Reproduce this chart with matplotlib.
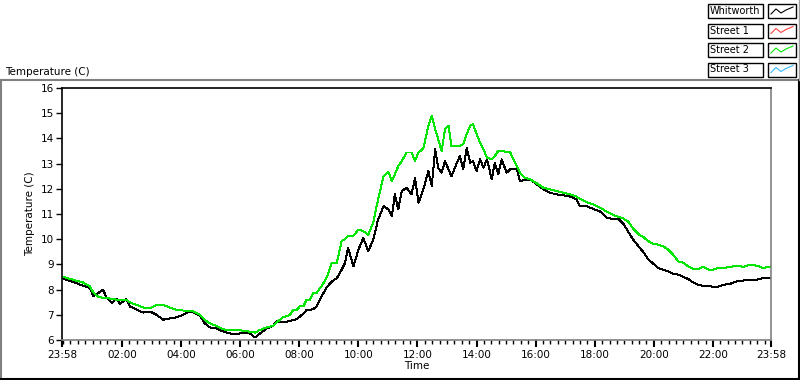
import matplotlib
matplotlib.use("Agg")
import matplotlib.pyplot as plt
from matplotlib.lines import Line2D
from matplotlib.patches import Rectangle

# minutes after 23:58 (start of the day window)
minutes = [0, 3, 23, 43, 57, 64, 74, 83, 91, 101, 111, 118, 130, 138, 152, 165, 179, 192,
           206, 219, 233, 246, 257, 267, 280, 290, 300, 314, 328, 341, 355, 368, 382, 392,
           402, 416, 429, 436, 449, 463, 470, 477, 483, 490, 497, 504, 510, 517, 524, 527,
           538, 548, 558, 568, 575, 581, 592, 602, 612, 622, 632, 642, 653, 663, 670, 676,
           683, 690, 700, 710, 717, 724, 734, 744, 751, 758, 764, 771, 778, 785, 791, 798,
           808, 815, 822, 829, 835, 842, 849, 856, 863, 873, 879, 886, 893, 903, 910, 917,
           924, 930, 940, 951, 964, 978, 991, 1005, 1018, 1032, 1045, 1052, 1066, 1079, 1093,
           1106, 1120, 1130, 1140, 1150, 1160, 1171, 1181, 1191, 1201, 1211, 1221, 1231, 1241,
           1252, 1262, 1272, 1282, 1292, 1302, 1313, 1323, 1333, 1343, 1357, 1370, 1384, 1397,
           1411, 1424, 1440]

whitworth = [8.5, 8.43, 8.3, 8.15, 8.06, 7.73, 7.87, 8.0, 7.67, 7.47, 7.63, 7.43, 7.63, 7.33,
             7.2, 7.09, 7.13, 7.0, 6.8, 6.86, 6.9, 7.0, 7.13, 7.09, 6.96, 6.66, 6.5, 6.46, 6.33,
             6.26, 6.24, 6.29, 6.26, 6.1, 6.26, 6.46, 6.56, 6.75, 6.7, 6.75, 6.8, 6.82, 6.93,
             7.04, 7.2, 7.2, 7.22, 7.33, 7.6, 7.73, 8.1, 8.32, 8.45, 8.79, 9.06, 9.65, 8.92,
             9.59, 10.05, 9.52, 9.98, 10.78, 11.31, 11.18, 10.91, 11.78, 11.18, 11.91, 12.04,
             11.78, 12.44, 11.44, 11.98, 12.7, 12.11, 13.57, 12.84, 12.64, 13.1, 12.77, 12.5,
             12.84, 13.3, 12.77, 13.63, 13.04, 13.1, 12.7, 13.17, 12.84, 13.17, 12.37, 13.04,
             12.57, 13.17, 12.64, 12.77, 12.77, 12.77, 12.31, 12.35, 12.37, 12.18, 11.98, 11.84,
             11.78, 11.74, 11.69, 11.58, 11.31, 11.31, 11.2, 11.1, 10.85, 10.8, 10.8, 10.62,
             10.3, 9.98, 9.72, 9.48, 9.19, 9.03, 8.86, 8.79, 8.72, 8.63, 8.59, 8.5, 8.42, 8.28,
             8.19, 8.15, 8.15, 8.1, 8.12, 8.19, 8.23, 8.32, 8.36, 8.39, 8.39, 8.46, 8.48]

street2 = [8.5, 8.5, 8.39, 8.28, 8.12, 7.87, 7.71, 7.67, 7.67, 7.63, 7.6, 7.6, 7.6, 7.49, 7.39,
           7.29, 7.26, 7.39, 7.39, 7.29, 7.2, 7.17, 7.17, 7.13, 7.0, 6.8, 6.66, 6.56, 6.42, 6.4,
           6.4, 6.37, 6.33, 6.29, 6.4, 6.5, 6.56, 6.7, 6.9, 7.0, 7.2, 7.2, 7.33, 7.33, 7.6, 7.6,
           7.88, 7.86, 8.06, 8.12, 8.5, 9.06, 9.06, 9.92, 10.0, 10.14, 10.14, 10.38, 10.32,
           10.18, 10.65, 11.58, 12.5, 12.67, 12.31, 12.57, 12.9, 13.1, 13.44, 13.44, 13.1,
           13.44, 13.6, 14.5, 14.9, 14.37, 13.97, 13.5, 14.37, 14.5, 13.7, 13.7, 13.7, 13.77,
           14.17, 14.5, 14.57, 14.17, 13.83, 13.57, 13.23, 13.17, 13.3, 13.5, 13.5, 13.46,
           13.46, 13.17, 12.9, 12.64, 12.44, 12.37, 12.22, 12.04, 11.98, 11.91, 11.84, 11.78,
           11.69, 11.6, 11.47, 11.38, 11.25, 11.1, 10.96, 10.89, 10.82, 10.7, 10.42, 10.2,
           10.08, 9.92, 9.82, 9.78, 9.72, 9.59, 9.39, 9.12, 9.06, 8.92, 8.82, 8.82, 8.9, 8.79,
           8.79, 8.86, 8.86, 8.9, 8.95, 8.9, 8.99, 8.95, 8.86, 8.92]

street1 = []
street3 = []

names = ["Whitworth", "Street 1", "Street 2", "Street 3"]
colors = ["black", "#ff4040", "#00e600", "#33bbff"]

tick_pos = [0] + [122 + 120 * k for k in range(11)] + [1440]
tick_lab = ["23:58", "02:00", "04:00", "06:00", "08:00", "10:00", "12:00", "14:00",
            "16:00", "18:00", "20:00", "22:00", "23:58"]

fig = plt.figure(figsize=(8, 3.8), dpi=100)
W, H = 800.0, 380.0

def fx(px):
    return px / W

def fy(py):
    return 1 - py / H

ax = fig.add_axes([fx(62), fy(340), fx(771) - fx(62), fy(88) - fy(340)])

ax.plot(minutes, whitworth, color=colors[0], lw=0.7, antialiased=False)
ax.plot(minutes[:len(street1)], street1, color=colors[1], lw=0.7)
ax.plot(minutes, street2, color=colors[2], lw=0.7, antialiased=False)
ax.plot(minutes[:len(street3)], street3, color=colors[3], lw=0.7)

ax.set_xlim(0, 1440)
ax.set_ylim(6, 16)
ax.set_yticks(range(6, 17))
ax.set_xticks(tick_pos)
ax.set_xticklabels(tick_lab)
ax.set_xticks(list(range(2, 1440, 15)), minor=True)
ax.tick_params(axis="both", labelsize=7.5, colors="black", length=4, width=1, pad=2)
ax.tick_params(axis="x", which="minor", length=3, width=1)
ax.tick_params(axis="x", which="major", length=5, width=1.5)

ax.spines["left"].set_color("black")
ax.spines["top"].set_color("black")
ax.spines["right"].set_color("#808080")
ax.spines["bottom"].set_color("#808080")
for s in ax.spines.values():
    s.set_linewidth(1.2)

ax.set_xlabel("Time", fontsize=7.5, labelpad=1)
ax.set_ylabel("Temperature (C)", fontsize=7.5, labelpad=4)

fig.text(fx(5), fy(72), "Temperature (C)", fontsize=7.5, va="center", ha="left")

# outer frame of the graph
fig.add_artist(Line2D([fx(1), fx(799)], [fy(80), fy(80)], color="#808080", lw=1.5))
fig.add_artist(Line2D([fx(1), fx(1)], [fy(80), fy(379)], color="#808080", lw=1.5))
fig.add_artist(Line2D([fx(1), fx(799)], [fy(379), fy(379)], color="black", lw=1.5))
fig.add_artist(Line2D([fx(799), fx(799)], [fy(80), fy(379)], color="black", lw=1.5))
fig.add_artist(Line2D([fx(798.5), fx(798.5)], [fy(0), fy(80)], color="#a0a0a0", lw=1))

# legend (plot names + line samples)
for i, (name, col) in enumerate(zip(names, colors)):
    top = 4 + i * 19.5
    h = 14
    fig.add_artist(Rectangle((fx(708), fy(top + h)), fx(763) - fx(708), h / H,
                             fill=False, edgecolor="black", lw=1))
    fig.text(fx(710), fy(top + h / 2), name, fontsize=7, va="center", ha="left")
    fig.add_artist(Rectangle((fx(768), fy(top + h)), fx(796) - fx(768), h / H,
                             fill=False, edgecolor="black", lw=1))
    zx = [771, 776, 781, 786, 793]
    zy = [top + 10, top + 5, top + 9, top + 6, top + 3]
    fig.add_artist(Line2D([fx(v) for v in zx], [fy(v) for v in zy], color=col, lw=0.8))

fig.savefig("out.png", dpi=100, facecolor="white")
